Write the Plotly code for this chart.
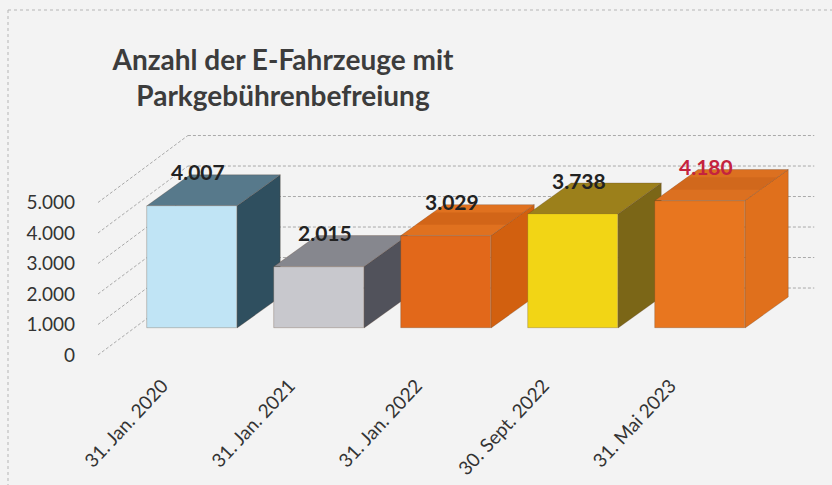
import plotly.graph_objects as go

# ---- data ----
categories = ["31. Jan. 2020", "31. Jan. 2021", "31. Jan. 2022", "30. Sept. 2022", "31. Mai 2023"]
values = [4007, 2015, 3029, 3738, 4180]
value_labels = ["4.007", "2.015", "3.029", "3.738", "4.180"]
y_ticks = [0, 1000, 2000, 3000, 4000, 5000]
y_tick_labels = ["0", "1.000", "2.000", "3.000", "4.000", "5.000"]

# ---- styles ----
front_colors = ["#c0e4f5", "#c8c8cd", "#e2681a", "#f2d515", "#e8761f"]
top_colors = ["#57798b", "#86878e", "#e0711f", "#9c801b", "#dc7020"]
side_colors = ["#2f4f5f", "#51525b", "#d2600f", "#7b6617", "#e0701c"]
inner_colors = [None, None, "#c85e14", None, "#c9631b"]
label_colors = ["#222222", "#222222", "#222222", "#222222", "#c4233e"]
edge = "rgba(90,60,40,0.45)"

# 3D pseudo-depth geometry (in axis units)
BAR_W = 0.71
DEPTH_X, DEPTH_Y = 0.34, 1016      # depth of each box
WALL_X, WALL_Y = 0.425, 1311       # back wall offset from bar fronts
FRONT_X, FRONT_Y = -0.283, -885    # front (label) plane offset
WALL_LEFT_FRONT = -0.74
WALL_RIGHT_BACK = 4.9
GRID_COLOR = "#a9a9a9"

fig = go.Figure()

shapes = []
# gridlines: diagonal on side wall + horizontal on back wall
for t in y_ticks:
    x0, y0 = WALL_LEFT_FRONT, t + FRONT_Y
    x1, y1 = WALL_LEFT_FRONT + (WALL_X - FRONT_X), t + WALL_Y
    shapes.append(dict(type="line", xref="x", yref="y", x0=x0, y0=y0, x1=x1, y1=y1, layer="below",
                       line=dict(color=GRID_COLOR, width=1, dash="3px,2px")))
    shapes.append(dict(type="line", xref="x", yref="y", x0=x1, y0=y1, x1=WALL_RIGHT_BACK, y1=y1, layer="below",
                       line=dict(color=GRID_COLOR, width=1, dash="3px,2px")))

# top and side faces of each box
for i, v in enumerate(values):
    xl, xr = i - BAR_W / 2, i + BAR_W / 2
    top = (f"M {xl},{v} L {xr},{v} L {xr + DEPTH_X},{v + DEPTH_Y} "
           f"L {xl + DEPTH_X},{v + DEPTH_Y} Z")
    side = (f"M {xr},0 L {xr + DEPTH_X},{DEPTH_Y} L {xr + DEPTH_X},{v + DEPTH_Y} "
            f"L {xr},{v} Z")
    shapes.append(dict(type="path", path=side, xref="x", yref="y", layer="below",
                       fillcolor=side_colors[i], line=dict(color=edge, width=0.6)))
    shapes.append(dict(type="path", path=top, xref="x", yref="y", layer="below",
                       fillcolor=top_colors[i], line=dict(color=edge, width=0.6)))
    if inner_colors[i]:
        # darker inner band of the open-box top
        f0, f1 = 0.35, 0.75
        band = (f"M {xl + DEPTH_X * f0},{v + DEPTH_Y * f0} L {xr + DEPTH_X * f0},{v + DEPTH_Y * f0} "
                f"L {xr + DEPTH_X * f1},{v + DEPTH_Y * f1} L {xl + DEPTH_X * f1},{v + DEPTH_Y * f1} Z")
        shapes.append(dict(type="path", path=band, xref="x", yref="y", layer="below",
                           fillcolor=inner_colors[i], opacity=0.6, line=dict(width=0)))

# front faces
fig.add_trace(go.Bar(
    x=list(range(len(values))), y=values, width=BAR_W,
    marker=dict(color=front_colors, line=dict(color=edge, width=0.6)),
    hoverinfo="skip", showlegend=False,
))

annotations = []
for i, v in enumerate(values):
    annotations.append(dict(x=i + 0.05, y=v + DEPTH_Y, xref="x", yref="y", text=f"<b>{value_labels[i]}</b>",
                            showarrow=False, yshift=3,
                            font=dict(family="Lato", size=21, color=label_colors[i])))

# chart border (dotted, top and left only visible)
shapes.append(dict(type="line", xref="paper", yref="paper",
                   x0=(8 - 90) / 730, x1=(832 - 90) / 730, y0=(365 - 10) / 245, y1=(365 - 10) / 245,
                   line=dict(color="#b5b5b5", width=1, dash="dot"), layer="below"))
shapes.append(dict(type="line", xref="paper", yref="paper",
                   x0=(8 - 90) / 730, x1=(8 - 90) / 730, y0=(365 - 10) / 245, y1=(365 - 485) / 245,
                   line=dict(color="#b5b5b5", width=1, dash="dot"), layer="below"))

fig.update_layout(
    width=832, height=485,
    margin=dict(l=90, r=12, t=120, b=120),
    paper_bgcolor="#f3f3f3", plot_bgcolor="rgba(0,0,0,0)",
    bargap=0,
    shapes=shapes, annotations=annotations,
    title=dict(text="<b>Anzahl der E-Fahrzeuge mit<br>Parkgebührenbefreiung</b>",
               x=283 / 832, xanchor="center", xref="container",
               y=1 - 70 / 485, yanchor="top", yref="container", automargin=False,
               font=dict(family="Lato", size=28, color="#3c3c3c")),
    xaxis=dict(range=[-0.803, 4.945], tickmode="array", automargin=False,
               tickvals=[i + FRONT_X + 0.05 for i in range(len(categories))], ticktext=categories,
               tickangle=-47, showgrid=False, zeroline=False, showline=False, ticks="",
               ticklabelstandoff=5,
               tickfont=dict(family="Lato", size=19, color="#333333")),
    yaxis=dict(range=[-1213, 6820], tickmode="array", automargin=False,
               tickvals=[t + FRONT_Y for t in y_ticks], ticktext=y_tick_labels,
               showgrid=False, zeroline=False, showline=False, ticks="", ticklabelstandoff=14,
               tickfont=dict(family="Lato", size=19, color="#333333")),
)

fig.write_html("out.html")
